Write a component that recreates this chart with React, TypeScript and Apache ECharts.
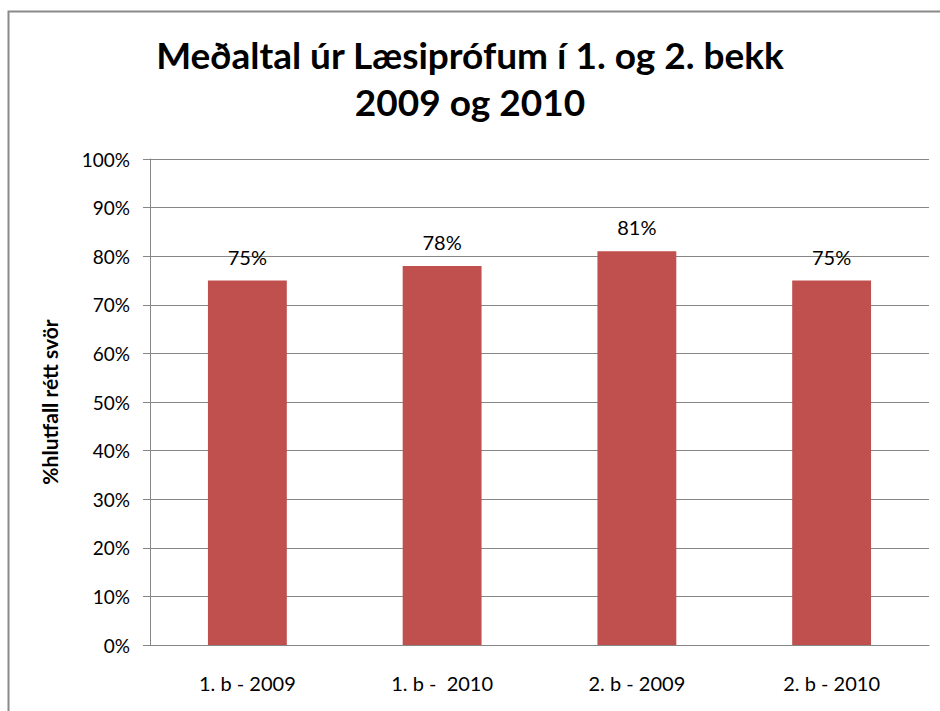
import React, { useEffect, useRef } from "react";
import * as echarts from "echarts";

const categories = ["1. b - 2009", "1. b -  2010", "2. b - 2009", "2. b - 2010"];
const values = [75, 78, 81, 75];
const yTicks = [0, 10, 20, 30, 40, 50, 60, 70, 80, 90, 100];
const titleText = "Meðaltal úr Læsiprófum í 1. og 2. bekk\n2009 og 2010";
const yAxisName = "%hlutfall rétt svör";

const FONT = "Lato";

export default function App() {
  const ref = useRef<HTMLDivElement>(null);
  useEffect(() => {
    if (!ref.current) return;
    const chart = echarts.init(ref.current, null, { renderer: "svg" });
    chart.setOption({
      animation: false,
      backgroundColor: "#ffffff",
      title: {
        text: titleText,
        left: "center",
        top: 26,
        textStyle: {
          fontFamily: FONT,
          fontSize: 37,
          fontWeight: "bold",
          color: "#000000",
          lineHeight: 47,
        },
      },
      graphic: [
        {
          type: "rect",
          shape: { x: 8.5, y: 11.5, width: 1000, height: 800 },
          style: { fill: "none", stroke: "#8a8a8a", lineWidth: 2 },
          silent: true,
        },
      ],
      grid: { left: 150, right: 11, top: 159, bottom: 66, containLabel: false },
      xAxis: {
        type: "category",
        data: categories,
        axisLine: { show: true, lineStyle: { color: "#868686", width: 1 } },
        axisTick: { show: false },
        axisLabel: {
          fontFamily: FONT,
          fontSize: 20,
          color: "#000000",
          margin: 28,
        },
      },
      yAxis: {
        type: "value",
        min: yTicks[0],
        max: yTicks[yTicks.length - 1],
        interval: 10,
        name: yAxisName,
        nameLocation: "middle",
        nameGap: 90,
        nameTextStyle: {
          fontFamily: FONT,
          fontSize: 21,
          fontWeight: "bold",
          color: "#000000",
        },
        axisLine: { show: true, lineStyle: { color: "#868686", width: 1 } },
        axisTick: { show: true, length: 7, lineStyle: { color: "#868686" } },
        splitLine: { show: true, lineStyle: { color: "#868686", width: 1 } },
        axisLabel: {
          fontFamily: FONT,
          fontSize: 19,
          color: "#000000",
          margin: 20,
          formatter: (v: number) => v + "%",
        },
      },
      series: [
        {
          type: "bar",
          data: values,
          barWidth: "40.5%",
          itemStyle: { color: "#C0504D" },
          label: {
            show: true,
            position: "top",
            distance: 14,
            fontFamily: FONT,
            fontSize: 20,
            color: "#000000",
            formatter: (p: any) => p.value + "%",
          },
        },
      ],
    });
    return () => chart.dispose();
  }, []);
  return (
    <div
      ref={ref}
      style={{ position: "fixed", left: 0, top: 0, width: 940, height: 711 }}
    />
  );
}
